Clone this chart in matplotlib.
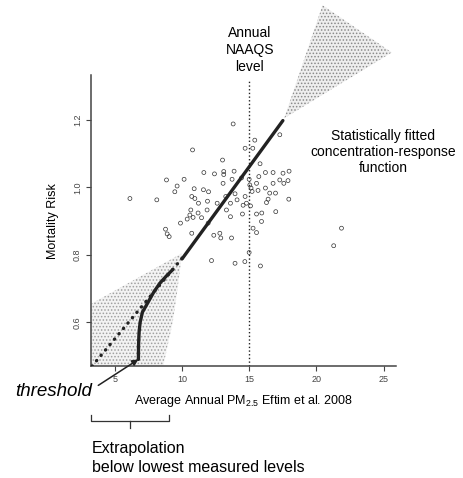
import numpy as np
import matplotlib
matplotlib.use("Agg")
import matplotlib.pyplot as plt

plt.rcParams['font.family'] = ['Liberation Sans', 'DejaVu Sans']
plt.rcParams['mathtext.default'] = 'regular'
plt.rcParams['hatch.linewidth'] = 0.7

# scatter of city-level estimates (PM2.5, mortality risk)
pm = [13.80, 10.78, 15.41, 14.69, 15.26, 13.01, 15.80, 8.84, 10.15, 9.63,
      9.46, 11.62, 12.41, 13.10, 13.10, 13.87, 13.05, 13.72, 14.42, 14.99,
      15.71, 16.20, 16.77, 17.51, 17.96, 15.54, 15.04, 15.13, 16.77, 17.27,
      17.57, 17.88, 6.12, 8.12, 10.90, 11.59, 11.97, 10.72, 10.95, 11.22,
      10.65, 11.19, 11.89, 11.86, 12.61, 13.60, 13.25, 14.09, 13.94, 14.69,
      14.54, 14.79, 15.09, 14.49, 15.21, 15.65, 16.20, 16.52, 16.40, 16.28,
      16.95, 17.94, 16.97, 15.54, 15.93, 15.91, 15.28, 15.54, 13.60, 13.30,
      10.58, 10.38, 9.88, 10.82, 11.45, 11.94, 8.77, 8.89, 9.04, 10.72,
      12.36, 12.81, 12.88, 13.68, 12.19, 13.94, 14.67, 14.99, 15.83, 21.28,
      21.86, 17.27]
risk = [1.188, 1.111, 1.140, 1.116, 1.116, 1.081, 1.070, 1.022, 1.024, 1.004,
        0.987, 1.044, 1.040, 1.047, 1.038, 1.048, 1.012, 1.024, 1.028, 1.024,
        1.032, 1.044, 1.044, 1.042, 1.048, 1.012, 1.007, 0.998, 1.012, 1.022,
        1.012, 1.020, 0.967, 0.963, 0.996, 0.993, 0.987, 0.973, 0.967, 0.953,
        0.933, 0.924, 0.959, 0.933, 0.953, 0.953, 0.973, 0.963, 0.981, 0.973,
        0.947, 0.953, 0.945, 0.921, 0.988, 0.991, 0.998, 0.983, 0.965, 0.955,
        0.983, 0.965, 0.928, 0.921, 0.924, 0.899, 0.879, 0.866, 0.913, 0.933,
        0.918, 0.906, 0.894, 0.911, 0.910, 0.894, 0.876, 0.862, 0.854, 0.864,
        0.858, 0.864, 0.850, 0.850, 0.783, 0.775, 0.780, 0.807, 0.767, 0.827,
        0.879, 1.156]

# fitted concentration-response function
fit_x = [10.0, 17.5]
fit_y = [0.788, 1.198]
# threshold curve at the low end
thr_x = [6.75, 6.76, 6.80, 6.88, 7.05, 7.45, 7.90, 8.35, 8.85, 9.30]
thr_y = [0.49, 0.53, 0.57, 0.60, 0.63, 0.658, 0.690, 0.716, 0.738, 0.756]
# linear extrapolation (dotted)
ext_x = [3.3, 10.0]
ext_y = [0.47, 0.79]
# uncertainty regions
low_band_x = [3.25, 3.25, 10.0, 9.6, 9.3, 8.6]
low_band_y = [0.47, 0.655, 0.805, 0.68, 0.60, 0.47]
high_band_x = [17.6, 20.45, 25.6]
high_band_y = [1.205, 1.54, 1.40]

naaqs = 15
extrap_range = [3.22, 9.0]

fig = plt.figure(figsize=(4.64, 4.78), dpi=100)
ax = fig.add_axes([0.196, 0.234, 0.657, 0.609])

ax.fill(low_band_x, low_band_y, facecolor='#f3f3f3', edgecolor='#a0a0a0',
        hatch='.....', linewidth=0, zorder=1)
ax.fill(high_band_x, high_band_y, facecolor='#eeeeee', edgecolor='#8a8a8a',
        hatch='.....', linewidth=0, zorder=1, clip_on=False)

ax.axvline(naaqs, ymax=0.985, color='#222222', linestyle=':', linewidth=1.0, zorder=2)

ax.scatter(pm, risk, s=8, facecolors='none', edgecolors='#333333',
           linewidths=0.5, zorder=3)

ax.plot(ext_x, ext_y, color='#222222', linewidth=2.4,
        linestyle=(0, (0.1, 2.0)), dash_capstyle='round', zorder=4)
ax.plot(thr_x, thr_y, color='#222222', linewidth=2.4,
        solid_capstyle='round', zorder=4)
ax.plot(fit_x, fit_y, color='#222222', linewidth=2.4,
        solid_capstyle='round', zorder=4)

ax.set_xlim(3.22, 25.9)
ax.set_ylim(0.47, 1.333)
ax.set_xticks([5, 10, 15, 20, 25])
ax.set_yticks([0.6, 0.8, 1.0, 1.2])
ax.set_yticklabels(['0.6', '0.8', '1.0', '1.2'], rotation=90, va='center')
ax.tick_params(labelsize=6.5, labelcolor='#444444', length=3.5, width=0.8,
               color='#444444', pad=3)
for s in ['top', 'right']:
    ax.spines[s].set_visible(False)
for s in ['left', 'bottom']:
    ax.spines[s].set_color('#444444')
    ax.spines[s].set_linewidth(1.1)

ax.set_ylabel('Mortality Risk', fontsize=9, labelpad=10)
ax.set_xlabel('Average Annual PM$_{2.5}$ Eftim et al. 2008', fontsize=9, labelpad=6)

# annotations
fig.text(250 / 464, 1 - 50 / 478, 'Annual\nNAAQS\nlevel', fontsize=10,
         ha='center', va='center', linespacing=1.25)
fig.text(383 / 464, 1 - 152 / 478,
         'Statistically fitted\nconcentration-response\nfunction', fontsize=10,
         ha='center', va='center', linespacing=1.2)

ax.annotate('threshold', xy=(thr_x[0], thr_y[0]), xycoords='data',
            xytext=(92, 478 - 392), textcoords='figure pixels',
            ha='right', va='center', fontsize=13.5, style='italic',
            annotation_clip=False,
            arrowprops=dict(arrowstyle='-|>', color='#222222', lw=1.1,
                            mutation_scale=9, relpos=(1.0, 0.65),
                            shrinkA=3, shrinkB=0))

# bracket for extrapolation range
y_top, y_bot, y_tick = 0.324, 0.307, 0.287
mid = (extrap_range[0] + extrap_range[1]) / 2
ax.plot([extrap_range[0], extrap_range[0], extrap_range[1], extrap_range[1]],
        [y_top, y_bot, y_bot, y_top], color='#333333', linewidth=0.9, clip_on=False)
ax.plot([mid, mid], [y_bot, y_tick], color='#333333', linewidth=0.9, clip_on=False)

fig.text(92 / 464, 1 - 448 / 478, 'Extrapolation', fontsize=11.5,
         ha='left', va='center')
fig.text(92 / 464, 1 - 468 / 478, 'below lowest measured levels', fontsize=11.5,
         ha='left', va='center')

fig.savefig('out.png', dpi=100)
